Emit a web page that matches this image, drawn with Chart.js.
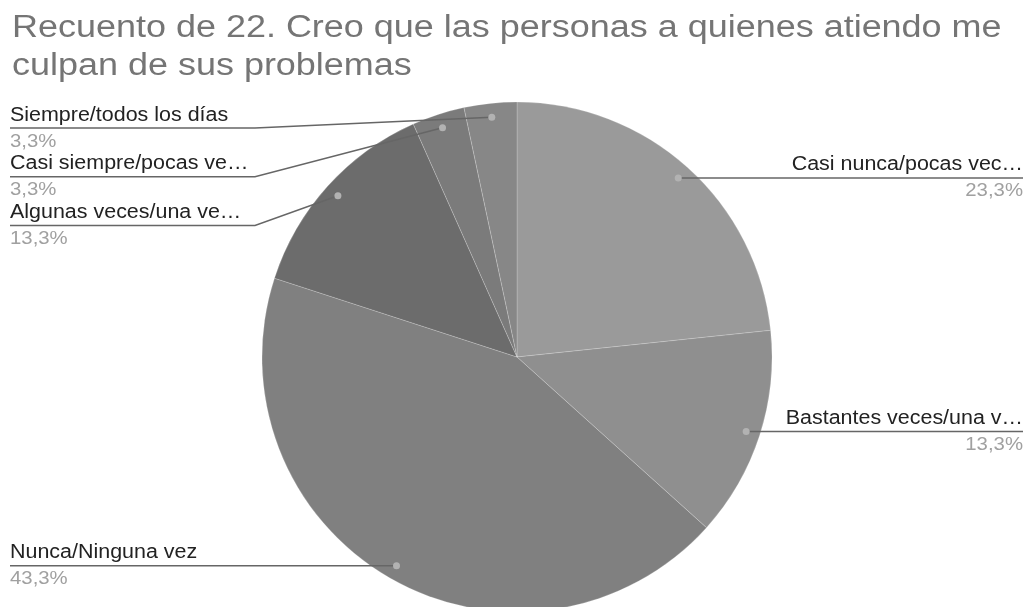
<!DOCTYPE html>
<html lang="es">
<head>
<meta charset="utf-8">
<title>Recuento de 22</title>
<script src="https://cdn.jsdelivr.net/npm/chart.js@4.4.1/dist/chart.umd.min.js"></script>
<style>
  html, body { margin: 0; padding: 0; background: #fff; }
  .wrap { width: 1029px; height: 607px; overflow: hidden; }
</style>
</head>
<body>
<div class="wrap"><canvas id="pie" width="1029" height="607"></canvas></div>
<script>
const titleLines = [
    "Recuento de 22. Creo que las personas a quienes atiendo me",
    "culpan de sus problemas",
];

// slices in clockwise order starting at 12 o'clock
const categories = [
    "Casi nunca/pocas vec…",
    "Bastantes veces/una v…",
    "Nunca/Ninguna vez",
    "Algunas veces/una ve…",
    "Casi siempre/pocas ve…",
    "Siempre/todos los días",
];
const counts = [7, 4, 13, 4, 1, 1];
const sliceColors = ["#9a9a9a", "#8f8f8f", "#808080", "#6c6c6c", "#7b7b7b", "#878787"];

const FONT = '"Liberation Sans", Arial, sans-serif';

// fillText with a horizontal stretch, the labels run a little wider than the font
function wideText(ctx, text, x, y, align, stretch) {
    ctx.save();
    ctx.translate(x, y);
    ctx.scale(stretch, 1);
    ctx.textAlign = align;
    ctx.fillText(text, 0, 0);
    ctx.restore();
}

function pctLabel(v, total) {
    return (v / total * 100).toFixed(1).replace(".", ",") + "%";
}

const titleAndLabels = {
    id: "titleAndLabels",
    afterDraw(chart) {
        const ctx = chart.ctx;
        const total = counts.reduce((a, b) => a + b, 0);

        ctx.save();
        ctx.textBaseline = "alphabetic";

        // title
        ctx.fillStyle = "#757575";
        ctx.font = `31px ${FONT}`;
        wideText(ctx, titleLines[0], 12, 37, "left", 1.16);
        wideText(ctx, titleLines[1], 12, 75, "left", 1.16);

        // anchor points just inside the rim of each slice
        const arcs = chart.getDatasetMeta(0).data;
        const items = arcs.map((arc, i) => {
            const p = arc.getProps(["x", "y", "startAngle", "endAngle", "outerRadius"], true);
            const mid = (p.startAngle + p.endAngle) / 2;
            const r = p.outerRadius * 0.945;
            const dx = p.x + Math.cos(mid) * r;
            const dy = p.y + Math.sin(mid) * r;
            return { i, dx, dy, right: dx > p.x, lineY: dy };
        });

        // push labels down so they don't collide with each other or the title
        const spacing = 48.7;
        [false, true].forEach((side) => {
            let prev = -Infinity;
            items.filter((d) => d.right === side)
                .sort((a, b) => a.dy - b.dy)
                .forEach((d) => {
                    d.lineY = Math.max(d.dy, 128, prev + spacing);
                    prev = d.lineY;
                });
        });

        items.forEach((d) => {
            const edgeX = d.right ? 1023 : 10;
            const elbowX = d.right ? 774 : 255;

            ctx.strokeStyle = "#666";
            ctx.lineWidth = 1.5;
            ctx.beginPath();
            ctx.moveTo(d.dx, d.dy);
            if (d.right ? d.dx < elbowX : d.dx > elbowX) ctx.lineTo(elbowX, d.lineY);
            ctx.lineTo(edgeX, d.lineY);
            ctx.stroke();

            ctx.fillStyle = "#b2b2b2";
            ctx.beginPath();
            ctx.arc(d.dx, d.dy, 3.5, 0, Math.PI * 2);
            ctx.fill();

            const align = d.right ? "right" : "left";
            ctx.font = `19.5px ${FONT}`;
            ctx.fillStyle = "#222";
            wideText(ctx, categories[d.i], edgeX, d.lineY - 7.5, align, 1.1);
            ctx.font = `18.5px ${FONT}`;
            ctx.fillStyle = "#a0a0a0";
            wideText(ctx, pctLabel(counts[d.i], total), edgeX, d.lineY + 18.5, align, 1.1);
        });

        ctx.restore();
    },
};

new Chart(document.getElementById("pie"), {
    type: "pie",
    data: {
        labels: categories,
        datasets: [{
            data: counts,
            backgroundColor: sliceColors,
            borderColor: "rgba(255, 255, 255, 0.2)",
            borderWidth: 1,
            clip: false,
        }],
    },
    options: {
        responsive: false,
        animation: false,
        radius: 255,
        layout: { padding: { top: 107, bottom: 0, left: 262, right: 257 } },
        plugins: {
            legend: { display: false },
            title: { display: false },
            tooltip: { enabled: false },
        },
    },
    plugins: [titleAndLabels],
});
</script>
</body>
</html>
